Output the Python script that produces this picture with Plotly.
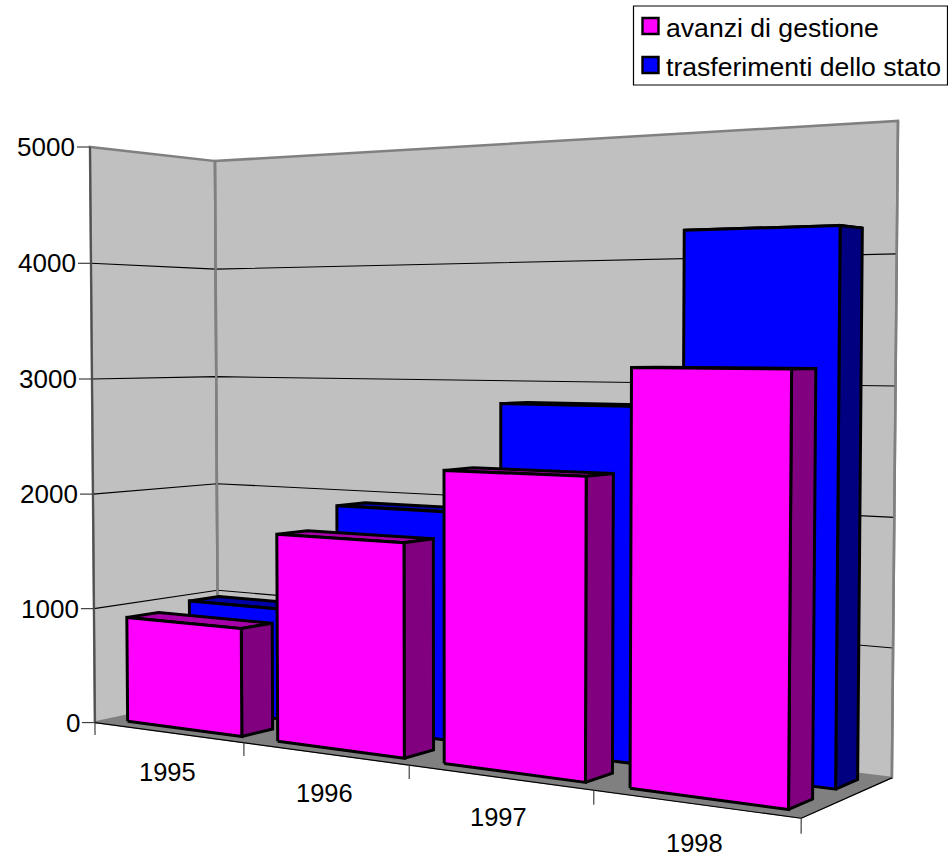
import numpy as np
import plotly.graph_objects as go

categories = ["1995", "1996", "1997", "1998"]
avanzi_di_gestione = [915, 1730, 2320, 3140]
trasferimenti_dello_stato = [975, 1915, 2825, 4190]
value_ticks = [0, 1000, 2000, 3000, 4000, 5000]
series_names = ["avanzi di gestione", "trasferimenti dello stato"]

VMAX = 5000.0
# Camera calibration: box corners (u, d, h) -> screen pixels
calib = [
    ((0, 0, 0), (95, 722)), ((0, 0, 1), (90, 147)), ((0, 1, 1), (215, 161)),
    ((0, 1, 0), (218, 697)), ((1, 1, 1), (898, 121)), ((1, 1, 0), (892, 777)),
    ((1, 0, 0), (801, 819)), ((.25, 0, 0), (244, 742.5)), ((.5, 0, 0), (409, 765)),
    ((.75, 0, 0), (594, 790.6)),
]
A = []
b = []
for (u, d, h), (x, y) in calib:
    A.append([u, d, h, 1, 0, 0, 0, 0, -x*u, -x*d, -x*h]); b.append(x)
    A.append([0, 0, 0, 0, u, d, h, 1, -y*u, -y*d, -y*h]); b.append(y)
P = np.append(np.linalg.lstsq(np.array(A, float), np.array(b, float), rcond=None)[0], 1).reshape(3, 4)


def proj(u, d, v):
    p = P @ np.array([u, d, v / VMAX, 1.0])
    return float(p[0] / p[2]), float(p[1] / p[2])


fig = go.Figure()


def poly(pts, fill=None, color="black", width=1.0, close=True, name=None):
    xy = [proj(*p) for p in pts]
    if close:
        xy.append(xy[0])
    fig.add_trace(go.Scatter(
        x=[a for a, _ in xy], y=[c for _, c in xy], mode="lines",
        fill="toself" if fill else "none", fillcolor=fill,
        line=dict(color=color, width=width), showlegend=False,
        hoverinfo="skip", name=name or ""))


GREY = "#808080"
# walls and floor
poly([(0, 0, 0), (0, 0, VMAX), (0, 1, VMAX), (0, 1, 0)], "#c0c0c0", GREY, 2.5)
poly([(0, 1, 0), (0, 1, VMAX), (1, 1, VMAX), (1, 1, 0)], "#c0c0c0", GREY, 2.5)
poly([(0, 0, 0), (0, 1, 0), (1, 1, 0), (1, 0, 0)], GREY, GREY, 1)
# gridlines
for t in value_ticks[1:-1]:
    poly([(0, 0, t), (0, 1, t), (1, 1, t)], None, "black", 1.1, close=False)
poly([(0, 1, 0), (0, 1, VMAX)], None, GREY, 2.5, close=False)
poly([(1, 1, 0), (1, 1, VMAX)], None, GREY, 2.5, close=False)
poly([(0, 0, 0), (0, 0, VMAX)], None, "#505050", 2, close=False)
poly([(0, 0, 0), (1, 0, 0)], None, "black", 1.2, close=False)
poly([(1, 0, 0), (1, 1, 0)], None, "black", 1.2, close=False)

N = len(categories)
GAP = 0.115  # fraction of category left empty on each side
EDGE = 3.0


def bar(i, v, d0, d1, front, top, side, name):
    u0 = (i + GAP) / N
    u1 = (i + 1 - GAP) / N
    poly([(u0, d0, v), (u0, d1, v), (u1, d1, v), (u1, d0, v)], top, "black", EDGE, name=name)
    poly([(u1, d0, 0), (u1, d0, v), (u1, d1, v), (u1, d1, 0)], side, "black", EDGE, name=name)
    poly([(u0, d0, 0), (u0, d0, v), (u1, d0, v), (u1, d0, 0)], front, "black", EDGE, name=name)


for i, v in enumerate(trasferimenti_dello_stato):
    bar(i, v, 0.625, 0.875, "#0000ff", "#0000a8", "#000080", series_names[1])
for i, v in enumerate(avanzi_di_gestione):
    bar(i, v, 0.125, 0.375, "#ff00ff", "#a800a8", "#800080", series_names[0])

annotations = []
shapes = []
FONT = "Liberation Sans, Arial, sans-serif"
# value axis
for t in value_ticks:
    x, y = proj(0, 0, t)
    shapes.append(dict(type="line", xref="x", yref="y", x0=x - 13, x1=x, y0=y, y1=y,
                       line=dict(color="#404040", width=1.2)))
    annotations.append(dict(x=x - 13, y=y, xref="x", yref="y", text=str(t), showarrow=False,
                            xanchor="right", yanchor="middle",
                            font=dict(family=FONT, size=26, color="black")))
# category axis
for i in range(N + 1):
    x0, y0 = proj(i / N, 0, 0)
    x1, y1 = proj(i / N, 0, -110)
    shapes.append(dict(type="line", xref="x", yref="y", x0=x0, x1=x1, y0=y0, y1=y1,
                       line=dict(color="#404040", width=1.2)))
for i, c in enumerate(categories):
    x, y = proj((i + 0.5) / N, 0, 0)
    annotations.append(dict(x=x, y=y + 39.5, xref="x", yref="y", text=c, showarrow=False,
                            xanchor="center", yanchor="middle",
                            font=dict(family=FONT, size=25.5, color="black")))

# legend box
shapes.append(dict(type="rect", xref="x", yref="y", x0=633.5, x1=947.5, y0=6, y1=85,
                   line=dict(color="black", width=1.2), fillcolor="white"))
for name, col, yc in zip(series_names, ["#ff00ff", "#0000ff"], [26, 65]):
    shapes.append(dict(type="rect", xref="x", yref="y", x0=642.5, x1=658.5, y0=yc - 8, y1=yc + 8,
                       line=dict(color="black", width=2.4), fillcolor=col))
    annotations.append(dict(x=664, y=yc + 2, xref="x", yref="y", text=name, showarrow=False,
                            xanchor="left", yanchor="middle",
                            font=dict(family=FONT, size=26.6, color="black")))

fig.update_layout(
    width=948, height=856, margin=dict(l=0, r=0, t=0, b=0, pad=0, autoexpand=False),
    paper_bgcolor="white", plot_bgcolor="white", showlegend=False,
    xaxis=dict(range=[0, 948], visible=False, fixedrange=True),
    yaxis=dict(range=[856, 0], visible=False, fixedrange=True),
    annotations=annotations, shapes=shapes,
)
fig.write_html("out.html", config={"displayModeBar": False},
               post_script="document.body.style.margin='0';")
